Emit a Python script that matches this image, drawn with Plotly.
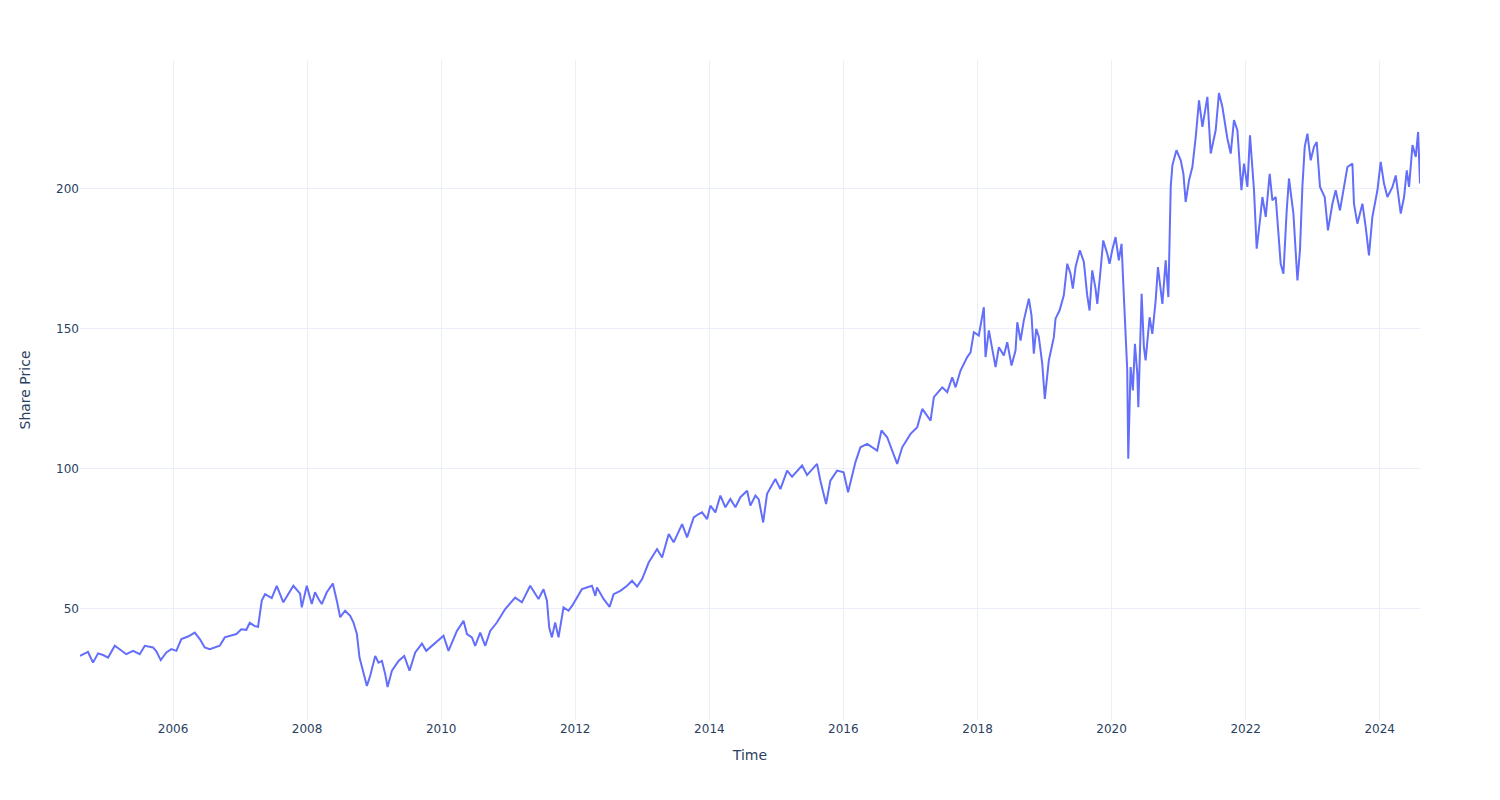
import pandas as pd
import plotly.graph_objects as go

# Time positions (decimal years)
time_years = [
    # 2004 - 2007
    2004.612, 2004.731, 2004.806, 2004.881, 2004.955, 2005.030, 2005.130, 2005.204, 2005.303, 2005.403,
    2005.503, 2005.578, 2005.701, 2005.751, 2005.816, 2005.9, 2005.975, 2006.049, 2006.124, 2006.224,
    2006.324, 2006.399, 2006.473, 2006.548, 2006.622, 2006.697, 2006.772, 2006.870, 2006.945, 2007.019,
    2007.094, 2007.145, 2007.219, 2007.269,
    2007.324, 2007.373, 2007.473, 2007.548, 2007.646, 2007.796, 2007.896, 2007.921, 2007.996,
    # 2008 - 2011
    2008.07, 2008.119, 2008.169, 2008.219, 2008.294, 2008.384, 2008.443, 2008.493, 2008.567, 2008.642,
    2008.691, 2008.742, 2008.781, 2008.816, 2008.851, 2008.891, 2008.94, 2009.015, 2009.064, 2009.115,
    2009.164, 2009.199, 2009.264, 2009.363, 2009.448, 2009.527, 2009.612, 2009.712, 2009.776, 2009.861,
    2009.96, 2010.034, 2010.109, 2010.234, 2010.333, 2010.384, 2010.458, 2010.507, 2010.582, 2010.657,
    2010.731, 2010.831, 2010.955, 2011.104, 2011.204, 2011.328,
    # 2011 - 2014
    2011.452, 2011.527, 2011.578, 2011.612, 2011.652, 2011.701, 2011.751, 2011.825, 2011.9,
    2011.955, 2012.1, 2012.249, 2012.299, 2012.324, 2012.422, 2012.512, 2012.572, 2012.672, 2012.772,
    2012.846, 2012.921, 2012.996, 2013.094, 2013.219, 2013.294, 2013.393, 2013.467, 2013.593, 2013.667,
    2013.766, 2013.84, 2013.89, 2013.966, 2014.015, 2014.09, 2014.164, 2014.239, 2014.313, 2014.388,
    2014.463, 2014.563, 2014.612, 2014.687, 2014.737, 2014.803, 2014.861,
    # 2015 - 2018
    2014.985, 2015.06, 2015.16, 2015.234, 2015.384, 2015.458, 2015.607, 2015.657, 2015.742, 2015.806,
    2015.906, 2016.004, 2016.07, 2016.179, 2016.254, 2016.354, 2016.503, 2016.567, 2016.652, 2016.727,
    2016.801, 2016.876, 2017.0, 2017.1, 2017.175, 2017.299, 2017.348, 2017.473, 2017.548, 2017.622,
    2017.672, 2017.746, 2017.846, 2017.896, 2017.945, 2018.019, 2018.094, 2018.119, 2018.169,
    # 2018 - 2021
    2018.269, 2018.318, 2018.393, 2018.443, 2018.507, 2018.567, 2018.593, 2018.642, 2018.691, 2018.766,
    2018.806, 2018.84, 2018.876, 2018.915, 2018.966, 2019.004, 2019.064, 2019.139, 2019.164, 2019.224,
    2019.288, 2019.339, 2019.388, 2019.422, 2019.463, 2019.527, 2019.587, 2019.637, 2019.672, 2019.712,
    2019.761, 2019.787, 2019.836, 2019.876, 2019.936, 2019.97, 2020.01, 2020.06, 2020.109, 2020.149,
    2020.184, 2020.209, 2020.234, 2020.249, 2020.284, 2020.318, 2020.348, 2020.384, 2020.399, 2020.448,
    2020.482, 2020.507, 2020.567, 2020.607, 2020.657, 2020.691, 2020.731, 2020.757, 2020.806, 2020.846,
    2020.881, 2020.906, 2020.966, 2021.03, 2021.07, 2021.104, 2021.154, 2021.204, 2021.254, 2021.303,
    # 2021 - 2024
    2021.354, 2021.428, 2021.478, 2021.552, 2021.601, 2021.652, 2021.727, 2021.776, 2021.825, 2021.876,
    2021.936, 2021.975, 2022.025, 2022.064, 2022.124, 2022.164, 2022.213, 2022.249, 2022.299, 2022.358,
    2022.398, 2022.448, 2022.522, 2022.563, 2022.612, 2022.646, 2022.712, 2022.772, 2022.81, 2022.846,
    2022.881, 2022.921, 2022.97, 2023.019, 2023.06, 2023.109, 2023.179, 2023.228, 2023.294, 2023.343,
    2023.407, 2023.467, 2023.518, 2023.593, 2023.616, 2023.667, 2023.742, 2023.791, 2023.84, 2023.891,
    2023.966, 2024.015, 2024.064, 2024.115, 2024.19, 2024.239, 2024.313, 2024.363, 2024.403, 2024.437,
    2024.488, 2024.537, 2024.572, 2024.60,
]

# Share price values
share_price = [
    # 2004 - 2007
    33.2, 34.6, 30.8, 34.1, 33.5, 32.6, 36.8, 35.6, 33.8, 35.0,
    33.8, 36.8, 36.2, 34.8, 31.7, 34.4, 35.6, 35.0, 39.2, 40.1,
    41.5, 39.2, 36.2, 35.6, 36.2, 36.8, 39.8, 40.4, 41.0, 42.7,
    42.5, 45.0, 43.8, 43.6,
    52.9, 55.2, 53.8, 58.2, 52.3, 58.2, 55.4, 50.5, 58.2,
    # 2008 - 2011
    51.7, 55.9, 53.6, 51.7, 55.9, 59.0, 52.9, 47.0, 49.3, 47.5,
    45.1, 41.0, 32.6, 29.0, 25.5, 22.5, 26.1, 33.2, 30.8, 31.4,
    26.7, 22.1, 27.9, 31.4, 33.2, 27.9, 34.4, 37.6, 35.0, 36.8,
    38.6, 40.4, 35.0, 42.1, 45.7, 41.0, 39.8, 36.8, 41.5, 36.8,
    42.1, 45.1, 49.9, 54.0, 52.3, 58.2,
    # 2011 - 2014
    53.5, 57.0, 52.9, 43.3, 39.8, 45.1, 39.8, 50.5, 49.3,
    51.1, 57.0, 58.2, 54.6, 57.6, 53.5, 50.7, 55.2, 56.4, 58.2,
    60.0, 57.9, 60.6, 66.5, 71.3, 68.3, 76.7, 73.7, 80.2, 75.5,
    82.6, 83.8, 84.4, 82.0, 86.8, 84.4, 90.4, 86.2, 89.2, 86.2,
    89.8, 92.1, 86.8, 90.4, 89.0, 80.8, 91.0,
    # 2015 - 2018
    96.3, 92.7, 99.3, 97.1, 101.1, 97.7, 101.7, 95.7, 87.4, 95.7,
    99.3, 98.7, 91.6, 102.3, 107.6, 108.8, 106.4, 113.6, 111.2, 106.4,
    101.7, 107.6, 112.4, 114.8, 121.3, 117.1, 125.5, 129.0, 127.3, 132.6,
    129.0, 135.0, 139.8, 141.5, 148.7, 147.5, 157.6, 139.8, 149.3,
    # 2018 - 2021
    136.2, 143.3, 140.4, 145.1, 136.8, 142.1, 152.2, 145.7, 152.9, 160.6,
    154.6, 141.0, 149.9, 147.0, 137.4, 124.9, 138.6, 146.9, 153.5, 156.4,
    161.8, 173.1, 169.5, 164.2, 171.9, 177.9, 173.7, 161.8, 156.4, 170.7,
    164.2, 158.8, 170.7, 181.4, 176.7, 173.1, 177.9, 182.6, 174.3, 180.2,
    161.2, 148.1, 135.0, 103.5, 136.2, 127.9, 144.5, 133.8, 121.9, 162.4,
    143.3, 138.6, 154.0, 148.1, 160.0, 171.9, 162.4, 158.8, 174.3, 161.2,
    200.5, 208.2, 213.6, 210.0, 205.2, 195.1, 202.9, 207.6, 218.3, 231.4,
    # 2021 - 2024
    221.9, 232.6, 212.4, 220.7, 234.0, 229.0, 217.7, 212.4, 224.3, 220.7,
    199.3, 208.8, 200.5, 218.9, 199.3, 178.5, 188.6, 196.9, 189.8, 205.2,
    195.7, 196.9, 173.1, 169.5, 192.1, 203.5, 191.0, 167.1, 177.9, 200.5,
    214.8, 219.5, 210.0, 214.8, 216.5, 200.5, 196.9, 185.0, 194.5, 199.3,
    192.1, 200.5, 207.6, 208.8, 194.5, 187.4, 194.5, 186.2, 176.1, 189.8,
    199.3, 209.4, 201.7, 196.9, 200.5, 204.6, 191.0, 196.9, 206.4, 200.5,
    215.4, 211.2, 220.1, 201.7,
]

assert len(time_years) == len(share_price)


def year_to_date(y):
    yr = int(y)
    start = pd.Timestamp(year=yr, month=1, day=1)
    end = pd.Timestamp(year=yr + 1, month=1, day=1)
    return start + (end - start) * (y - yr)


dates = [year_to_date(y) for y in time_years]

fig = go.Figure(
    go.Scatter(
        x=dates,
        y=share_price,
        mode="lines",
        line=dict(color="#636efa", width=2),
        name="Share Price",
    )
)

fig.update_layout(
    template="plotly_white",
    width=1484,
    height=784,
    margin=dict(l=72, r=72, t=52, b=72),
    font=dict(family="DejaVu Sans"),
    showlegend=False,
)
fig.update_xaxes(title_text="Time")
fig.update_yaxes(title_text="Share Price", title_standoff=22)

fig.write_html("out.html")
